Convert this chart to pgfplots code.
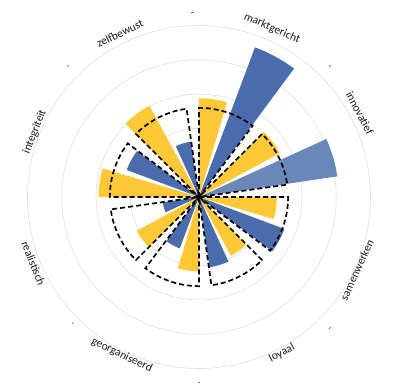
\documentclass[border=0pt]{standalone}
\usepackage{fontspec}
\setmainfont{Carlito}
\usepackage{pgfplots}
\pgfplotsset{compat=1.18}
\usepgfplotslibrary{polar}
\definecolor{cyel}{RGB}{255,200,55}
\definecolor{cblue}{RGB}{74,108,172}
\definecolor{cbluel}{RGB}{106,135,186}
\definecolor{cgrid}{RGB}{222,222,222}
\begin{document}
\begin{tikzpicture}
\path[use as bounding box] (-199bp,-193bp) rectangle (195bp,197bp);
\begin{polaraxis}[
 at={(0,0)}, anchor=origin,
 scale only axis, width=343bp, height=343bp,
 xmin=0, xmax=360, ymin=0, ymax=5,
 xtick=\empty, ytick={1,2,3,4}, yticklabels={},
 ymajorgrids, grid style={cgrid, line width=0.6pt},
 separate axis lines,
 x axis line style={draw=cgrid, line width=0.6pt},
 y axis line style={draw=none},
 major tick length=0pt,
 clip=false,
 font=\fontsize{11.5}{13}\selectfont,
]
% yellow series
\addplot[fill=cyel, draw=none] coordinates {
 (90,0) (90,2.88) (86,2.88) (82,2.88) (78,2.88) (73.5,2.88) (73.5,0)
 (45,0) (45,2.68) (41,2.68) (37,2.68) (33,2.68) (28.5,2.68) (28.5,0)
 (360,0) (360,2.27) (356,2.27) (352,2.27) (348,2.27) (343.5,2.27) (343.5,0)
 (315,0) (315,1.95) (311,1.95) (307,1.95) (303,1.95) (298.5,1.95) (298.5,0)
 (270,0) (270,2.17) (266,2.17) (262,2.17) (258,2.17) (253.5,2.17) (253.5,0)
 (225,0) (225,2.07) (221,2.07) (217,2.07) (213,2.07) (208.5,2.07) (208.5,0)
 (180,0) (180,2.93) (176,2.93) (172,2.93) (168,2.93) (163.5,2.93) (163.5,0)
 (135,0) (135,3.03) (131,3.03) (127,3.03) (123,3.03) (118.5,3.03) (118.5,0)
};
% blue series
\addplot[fill=cblue, draw=none] coordinates {
 (69.5,0) (69.5,4.66) (65.5,4.66) (61.5,4.66) (57.5,4.66) (53.5,4.66) (53.5,0)
 (339.5,0) (339.5,2.66) (335.5,2.66) (331.5,2.66) (327.5,2.66) (323.5,2.66) (323.5,0)
 (294.5,0) (294.5,2.07) (290.5,2.07) (286.5,2.07) (282.5,2.07) (278.5,2.07) (278.5,0)
 (249.5,0) (249.5,1.6) (245.5,1.6) (241.5,1.6) (237.5,1.6) (233.5,1.6) (233.5,0)
 (204.5,0) (204.5,1.07) (200.5,1.07) (196.5,1.07) (192.5,1.07) (188.5,1.07) (188.5,0)
 (159.5,0) (159.5,2.25) (155.5,2.25) (151.5,2.25) (147.5,2.25) (143.5,2.25) (143.5,0)
 (114.5,0) (114.5,1.63) (110.5,1.63) (106.5,1.63) (102.5,1.63) (98.5,1.63) (98.5,0)
};
% blue, innovatief (lighter)
\addplot[fill=cbluel, draw=none] coordinates {
 (24.5,0) (24.5,4.08) (20.5,4.08) (16.5,4.08) (12.5,4.08) (8.5,4.08) (8.5,0)
};
% dashed outline series
\addplot[draw=black, line width=1.7pt, dash pattern=on 5bp off 3bp, fill=none] coordinates {
 (90,0) (90,2.6) (86,2.6) (82,2.6) (78,2.6) (74,2.6) (70,2.6) (66,2.6) (62,2.6) (58,2.6) (53,2.6) (53,0)
 (45,0) (45,2.6) (41,2.6) (37,2.6) (33,2.6) (29,2.6) (25,2.6) (21,2.6) (17,2.6) (13,2.6) (8,2.6) (8,0)
 (360,0) (360,2.6) (356,2.6) (352,2.6) (348,2.6) (344,2.6) (340,2.6) (336,2.6) (332,2.6) (328,2.6) (323,2.6) (323,0)
 (315,0) (315,2.6) (311,2.6) (307,2.6) (303,2.6) (299,2.6) (295,2.6) (291,2.6) (287,2.6) (283,2.6) (278,2.6) (278,0)
 (270,0) (270,2.6) (266,2.6) (262,2.6) (258,2.6) (254,2.6) (250,2.6) (246,2.6) (242,2.6) (238,2.6) (233,2.6) (233,0)
 (225,0) (225,2.6) (221,2.6) (217,2.6) (213,2.6) (209,2.6) (205,2.6) (201,2.6) (197,2.6) (193,2.6) (188,2.6) (188,0)
 (180,0) (180,2.6) (176,2.6) (172,2.6) (168,2.6) (164,2.6) (160,2.6) (156,2.6) (152,2.6) (148,2.6) (143,2.6) (143,0)
 (135,0) (135,2.6) (131,2.6) (127,2.6) (123,2.6) (119,2.6) (115,2.6) (111,2.6) (107,2.6) (103,2.6) (98,2.6) (98,0)
};
% category labels
\node[black!90, rotate=-23.4] at (axis cs:66.6,5.36) {marktgericht};
\node[black!90, rotate=-62.5] at (axis cs:27.5,5.29) {innovatief};
\node[black!90, rotate=65.2] at (axis cs:-24.8,5.07) {samenwerken};
\node[black!90, rotate=28] at (axis cs:-62,5.15) {loyaal};
\node[black!90, rotate=-26] at (axis cs:-116,5.13) {georganiseerd};
\node[black!90, rotate=-68.2] at (axis cs:-158.2,5.2) {realistisch};
\node[black!90, rotate=68.3] at (axis cs:158.3,5.15) {integriteit};
\node[black!90, rotate=25.8] at (axis cs:115.8,5.3) {zelfbewust};
% small boundary marks
\node[inner sep=0pt, fill=black!55, minimum width=2.6pt, minimum height=0.7pt, rotate=0] at (axis cs:92,5.4) {};
\node[inner sep=0pt, fill=black!55, minimum width=2.6pt, minimum height=0.7pt, rotate=-45] at (axis cs:45,5.4) {};
\node[inner sep=0pt, fill=black!55, minimum width=2.6pt, minimum height=0.7pt, rotate=45] at (axis cs:315,5.4) {};
\node[inner sep=0pt, fill=black!55, minimum width=2.6pt, minimum height=0.7pt, rotate=0] at (axis cs:270,5.4) {};
\node[inner sep=0pt, fill=black!55, minimum width=2.6pt, minimum height=0.7pt, rotate=-45] at (axis cs:225,5.2) {};
\node[inner sep=0pt, fill=black!55, minimum width=2.6pt, minimum height=0.7pt, rotate=45] at (axis cs:135,5.4) {};
\end{polaraxis}
\end{tikzpicture}
\end{document}
